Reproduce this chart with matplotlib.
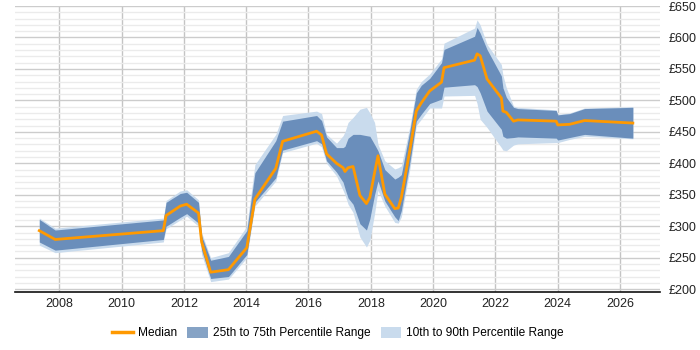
import matplotlib.pyplot as plt
from matplotlib.lines import Line2D
from matplotlib.patches import Patch
from matplotlib.ticker import MultipleLocator, FuncFormatter

plt.rcParams['font.family'] = ['Liberation Sans', 'DejaVu Sans']

# percentile series (day rate, GBP)
years = [2007.36, 2007.87, 2011.34, 2011.43, 2011.88, 2012.09, 2012.47, 2012.57,
         2012.86, 2013.43, 2014.02, 2014.28, 2014.95, 2015.17, 2016.26, 2016.42,
         2016.58, 2016.90, 2017.11, 2017.17, 2017.27, 2017.43, 2017.65, 2017.86,
         2017.97, 2018.12, 2018.23, 2018.45, 2018.77, 2018.88, 2018.98, 2019.25,
         2019.46, 2019.62, 2019.89, 2020.27, 2020.35, 2021.33, 2021.41, 2021.51,
         2021.73, 2022.19, 2022.24, 2022.35, 2022.58, 2022.72, 2023.95, 2024.00,
         2024.38, 2024.86, 2026.41]
p10 = [270, 258, 275, 296, 310, 316, 300, 255, 212, 216, 250, 332, 372, 417, 432, 426,
       400, 380, 357, 350, 335, 322, 283, 267, 278, 320, 357, 332, 306, 305, 315, 390,
       460, 470, 488, 488, 507, 508, 495, 470, 457, 425, 421, 420, 429, 431, 433, 433,
       438, 443, 439]
p25 = [275, 262, 279, 300, 314, 320, 305, 262, 217, 220, 255, 338, 377, 421, 436, 431,
       404, 386, 370, 360, 345, 335, 304, 294, 312, 350, 372, 340, 315, 309, 325, 400,
       467, 478, 495, 502, 521, 525, 522, 512, 483, 454, 443, 440, 441, 442, 440, 437,
       441, 446, 440]
median = [293, 279, 293, 317, 332, 335, 321, 275, 227, 231, 266, 343, 392, 435, 451, 445,
          415, 400, 393, 387, 393, 395, 349, 336, 346, 385, 412, 351, 328, 329, 346, 420,
          483, 496, 515, 529, 552, 564, 574, 571, 534, 504, 483, 481, 467, 469, 467, 461,
          462, 468, 464]
p75 = [311, 294, 310, 338, 352, 354, 338, 285, 246, 252, 293, 385, 436, 467, 476, 468,
       442, 425, 425, 427, 440, 446, 446, 444, 443, 430, 420, 390, 375, 378, 382, 451,
       512, 524, 535, 560, 581, 602, 616, 607, 581, 539, 520, 505, 489, 487, 484, 477,
       479, 487, 489]
p90 = [313, 297, 313, 341, 356, 358, 342, 290, 250, 258, 300, 398, 446, 476, 483, 479,
       446, 432, 444, 450, 465, 473, 486, 489, 480, 465, 430, 404, 391, 393, 396, 458,
       518, 530, 542, 566, 591, 615, 628, 620, 589, 557, 540, 520, 491, 489, 485, 478,
       480, 488, 490]

median_color = '#ff9900'
iqr_color = '#6a8ebb'
outer_color = '#c9dbed'

fig = plt.figure(figsize=(7, 3.5), dpi=100)
ax = fig.add_axes([0.0214, 0.1657, 0.9214, 0.818])

ax.fill_between(years, p10, p90, color=outer_color, lw=0, zorder=2)
ax.fill_between(years, p25, p75, color=iqr_color, lw=0, zorder=3)
ax.plot(years, median, color=median_color, lw=2, zorder=4)

ax.set_xlim(2006.58, 2027.28)
ax.set_ylim(195.5, 650.5)
ax.xaxis.set_major_locator(MultipleLocator(2))
ax.yaxis.set_major_locator(MultipleLocator(50))
ax.yaxis.set_minor_locator(MultipleLocator(10))
ax.yaxis.set_major_formatter(FuncFormatter(lambda v, p: '£%d' % v))
ax.yaxis.tick_right()

ax.grid(axis='y', which='major', color='#cccccc', lw=1, zorder=0)
ax.grid(axis='y', which='minor', color='#ebebeb', lw=1, zorder=0)
ax.grid(axis='x', which='major', color='#c4c4c4', lw=1, zorder=0)
ax.set_axisbelow(True)

ax.tick_params(axis='both', which='both', length=0, labelsize=9, colors='#222222')
ax.tick_params(axis='y', pad=6)
ax.tick_params(axis='x', pad=4)

for pos in ['top', 'left', 'right']:
    ax.spines[pos].set_visible(False)
ax.spines['bottom'].set_color('#111111')
ax.spines['bottom'].set_linewidth(1.2)

handles = [Line2D([], [], color=median_color, lw=2.5),
           Patch(color='#86a3c5', lw=0),
           Patch(color=outer_color, lw=0)]
labels = ['Median', '25th to 75th Percentile Range', '10th to 90th Percentile Range']
fig.legend(handles, labels, loc='center', bbox_to_anchor=(0.483, 0.048), ncol=3,
           frameon=False, fontsize=8.6, handlelength=1.7, handleheight=1.0,
           columnspacing=0.85, handletextpad=0.45)

fig.savefig('out.png', dpi=100)
